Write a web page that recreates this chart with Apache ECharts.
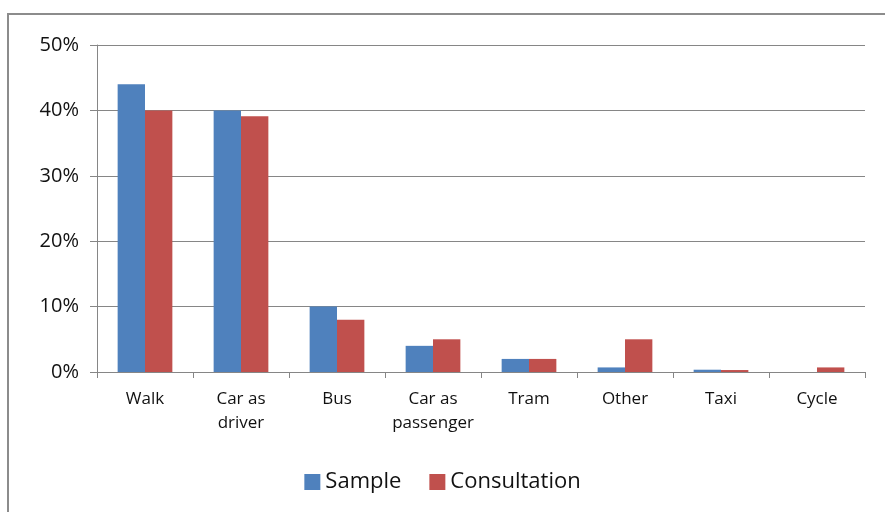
<!DOCTYPE html>
<html>
<head>
<meta charset="utf-8">
<script src="https://cdn.jsdelivr.net/npm/echarts@6/dist/echarts.min.js"></script>
<style>
  html, body { margin: 0; padding: 0; background: #fff; }
  #main { width: 885px; height: 512px; }
  #frame { position: absolute; left: 7px; top: 13px; width: 900px; height: 520px; border: 2px solid #8c8c8c; box-sizing: border-box; pointer-events: none; }
</style>
</head>
<body>
<div id="main"></div>
<div id="frame"></div>
<script>
// travel mode shares, in %
var categories = ['Walk', 'Car as\ndriver', 'Bus', 'Car as\npassenger', 'Tram', 'Other', 'Taxi', 'Cycle'];
var sample = [44, 40, 10, 4, 2, 0.7, 0.35, 0];
var consultation = [40, 39.1, 8, 5, 2, 5, 0.3, 0.7];
var yTicks = [0, 10, 20, 30, 40, 50];

var font = 'Open Sans, Liberation Sans, sans-serif';
var myChart = echarts.init(document.getElementById('main'));
myChart.setOption({
    animation: false,
    color: ['#4F81BD', '#C0504D'],
    grid: {
        left: 97,
        right: 20,
        top: 45,
        bottom: 140
    },
    legend: {
        data: ['Sample', 'Consultation'],
        bottom: 14,
        left: 'center',
        itemWidth: 16,
        itemHeight: 16,
        itemGap: 28,
        icon: 'rect',
        textStyle: { fontFamily: font, fontSize: 22, color: '#111' }
    },
    xAxis: {
        type: 'category',
        data: categories,
        axisLine: { lineStyle: { color: '#868686', width: 1 } },
        axisTick: { show: true, length: 6, lineStyle: { color: '#868686' } },
        axisLabel: {
            interval: 0,
            fontFamily: font,
            fontSize: 17,
            color: '#111',
            margin: 15,
            lineHeight: 24
        }
    },
    yAxis: {
        type: 'value',
        min: yTicks[0],
        max: yTicks[yTicks.length - 1],
        interval: 10,
        axisLine: { show: true, lineStyle: { color: '#868686' } },
        axisTick: { show: true, length: 7, lineStyle: { color: '#868686' } },
        axisLabel: {
            fontFamily: font,
            fontSize: 20,
            color: '#111',
            margin: 18,
            formatter: function (v) { return v + '%'; }
        },
        splitLine: { lineStyle: { color: '#868686', width: 1 } }
    },
    series: [{
        name: 'Sample',
        type: 'bar',
        data: sample,
        barGap: '0%',
        barCategoryGap: '43%'
    }, {
        name: 'Consultation',
        type: 'bar',
        data: consultation,
        barGap: '0%',
        barCategoryGap: '43%'
    }]
});
</script>
</body>
</html>
